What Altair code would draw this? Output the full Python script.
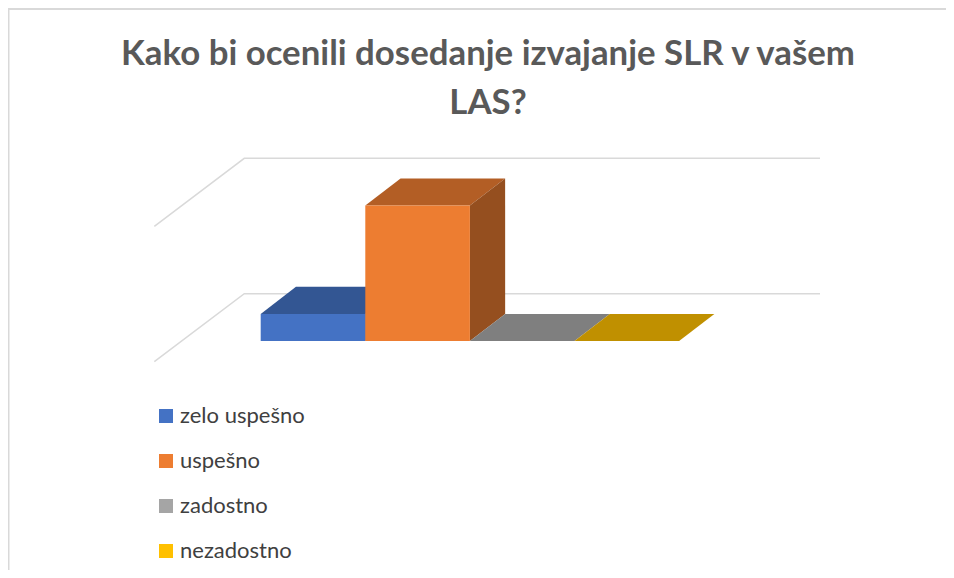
import altair as alt
import pandas as pd

title_lines = ["Kako bi ocenili dosedanje izvajanje SLR v vašem", "LAS?"]
categories = ["zelo uspešno", "uspešno", "zadostno", "nezadostno"]
values = [1, 5, 0, 0]
front_colors = ["#4472C4", "#ED7D31", "#A5A5A5", "#FFC000"]
top_colors = ["#335693", "#B35E25", "#7F7F7F", "#C09000"]
side_colors = ["#2A4680", "#954F1F", "#6E6E6E", "#A07800"]
grid_levels = [0, 5]

# layout: the data scales are chosen so one category slot is 104.6 px, one value is 27.08 px
W, H = 938, 562
PX_PER_SLOT, PX_PER_VALUE = 104.6, 27.08
X0_PX, Y0_PX = 260.7 - 8, 341 - 8
x_scale = alt.Scale(domain=[-X0_PX / PX_PER_SLOT, (W - X0_PX) / PX_PER_SLOT], nice=False, zero=False)
y_scale = alt.Scale(domain=[(Y0_PX - H) / PX_PER_VALUE, Y0_PX / PX_PER_VALUE], nice=False, zero=False)
X = alt.X("x:Q", scale=x_scale, axis=None)
Y = alt.Y("y:Q", scale=y_scale, axis=None)
DEPTH_X, DEPTH_Y = 0.337, 1.0
GRID_LEFT, GRID_BACK, GRID_RIGHT = -1.017, -0.157, 5.347
GRID_FRONT_Y, GRID_BACK_Y = -0.764, 1.747

layers = []

# page frame
frame = alt.Chart(pd.DataFrame({"a": [0]}))
layers.append(frame.mark_rule(color="#D9D9D9", strokeWidth=2).encode(
    x=alt.value(0.5), y=alt.value(0), y2=alt.value(H)))
layers.append(frame.mark_rule(color="#D9D9D9", strokeWidth=2).encode(
    x=alt.value(0), x2=alt.value(W), y=alt.value(1)))

# gridlines: floor/side diagonal plus back wall
for g in grid_levels:
    rows = [
        {"x": GRID_LEFT, "y": g + GRID_FRONT_Y},
        {"x": GRID_BACK, "y": g + GRID_BACK_Y},
        {"x": GRID_RIGHT, "y": g + GRID_BACK_Y},
    ]
    layers.append(alt.Chart(pd.DataFrame(rows)).mark_line(color="#D9D9D9", strokeWidth=1.5).encode(x=X, y=Y))

# top and side faces, then front faces
for i, v in enumerate(values):
    top = pd.DataFrame([
        {"x": i, "y": v, "y2": v},
        {"x": i + DEPTH_X, "y": v + DEPTH_Y, "y2": v},
        {"x": i + 1, "y": v + DEPTH_Y, "y2": v},
        {"x": i + 1 + DEPTH_X, "y": v + DEPTH_Y, "y2": v + DEPTH_Y},
    ])
    layers.append(alt.Chart(top).mark_area(color=top_colors[i], orient="vertical", opacity=1).encode(
        x=X, y=Y, y2="y2:Q"))
    if v > 0:
        side = pd.DataFrame([
            {"x": i + 1, "y": v, "y2": 0},
            {"x": i + 1 + DEPTH_X, "y": v + DEPTH_Y, "y2": DEPTH_Y},
        ])
        layers.append(alt.Chart(side).mark_area(color=side_colors[i], orient="vertical", opacity=1).encode(
            x=X, y=Y, y2="y2:Q"))

front = pd.DataFrame({
    "cat": categories,
    "x": list(range(len(categories))),
    "x2": [i + 1 for i in range(len(categories))],
    "y": values,
    "y2": [0] * len(categories),
})
layers.append(alt.Chart(front).mark_rect().encode(
    x=X, x2="x2:Q", y=Y, y2="y2:Q",
    color=alt.Color(
        "cat:N",
        scale=alt.Scale(domain=categories, range=front_colors),
        sort=categories,
        legend=alt.Legend(
            title=None, orient="none", legendX=147, legendY=397,
            symbolType="square", symbolSize=196, symbolStrokeWidth=0, symbolOpacity=1,
            labelFont="Lato", labelFontSize=22, labelColor="#404040", labelLimit=300,
            labelOffset=3, rowPadding=23, columns=1,
        ),
    ),
))

chart = alt.layer(*layers).properties(
    width=W, height=H, padding=0, autosize=alt.AutoSizeParams(type="none"),
    title=alt.TitleParams(
        text=title_lines, anchor="middle", offset=-115, dx=11,
        font="Lato", fontSize=34.8, fontWeight="bold", color="#595959", lineHeight=49,
    ),
).configure_view(stroke=None)

chart.save("out.html", embed_options={"renderer": "svg", "actions": False})
